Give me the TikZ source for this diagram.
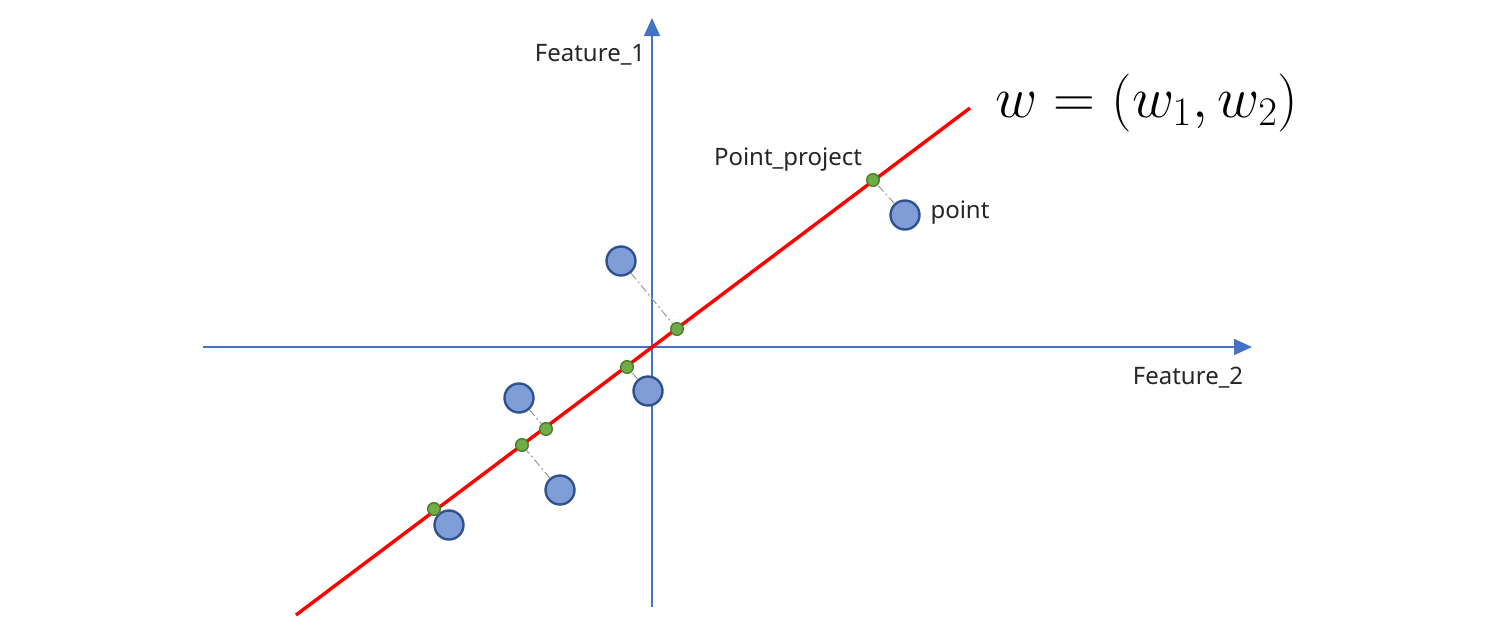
\RequirePackage{fix-cm}
\documentclass[tikz,border=0pt]{standalone}
\usepackage{fontspec}
\setmainfont{Noto Sans}
\usetikzlibrary{arrows.meta}
\definecolor{axisblue}{RGB}{68,114,196}
\definecolor{ptfill}{RGB}{127,158,216}
\definecolor{ptdraw}{RGB}{47,82,143}
\definecolor{prfill}{RGB}{112,173,71}
\definecolor{prdraw}{RGB}{75,125,45}
\begin{document}
\begin{tikzpicture}[x=0.5pt,y=-0.5pt,
  axisline/.style={draw=axisblue,line width=0.8pt,-{Triangle[length=9pt,width=8pt]}},
  pt/.style={circle,fill=ptfill,draw=ptdraw,line width=1.2pt,minimum size=14.5pt,inner sep=0pt},
  proj/.style={circle,fill=prfill,draw=prdraw,line width=0.7pt,minimum size=6.3pt,inner sep=0pt},
  link/.style={draw=gray!80,line width=0.5pt,dash pattern=on 4pt off 1.5pt on 1pt off 1.5pt},
  lbl/.style={font=\fontsize{12}{14}\selectfont,text=black!85,inner sep=0pt}]
\useasboundingbox (0,0) rectangle (1500,643);
% axes
\coordinate (xs) at (203,347);
\coordinate (xe) at (1252,347);
\coordinate (ys) at (652,607);
\coordinate (ye) at (652,18);
\draw[axisline] (xs) -- (xe);
\draw[axisline] (ys) -- (ye);
% red line
\coordinate (ls) at (296,615);
\coordinate (le) at (970,108);
\draw[red,line width=1.7pt] (ls) -- (le);
% points and projections
\node[pt] (p1) at (905,215) {};
\node[proj] (q1) at (873,180) {};
\node[pt] (p2) at (621,261) {};
\node[proj] (q2) at (677,329) {};
\node[pt] (p3) at (648,391) {};
\node[proj] (q3) at (627,367) {};
\node[pt] (p4) at (519,398) {};
\node[proj] (q4) at (546,429) {};
\node[pt] (p5) at (560,490) {};
\node[proj] (q5) at (522,445) {};
\node[pt] (p6) at (449,525) {};
\node[proj] (q6) at (434,509) {};
\foreach \i in {1,...,6} {\draw[link] (p\i) -- (q\i);}
% labels
\node[lbl] (f1) at (590,55) {Feature\_1};
\node[lbl] (f2) at (1188,378) {Feature\_2};
\node[lbl] (lp) at (788,160) {Point\_project};
\node[lbl] (lpt) at (960,213) {point};
\node[anchor=base west,inner sep=0pt,font=\fontsize{29}{34}\selectfont] (w) at (995,117) {$w=(w_1,w_2)$};
\end{tikzpicture}
\end{document}
